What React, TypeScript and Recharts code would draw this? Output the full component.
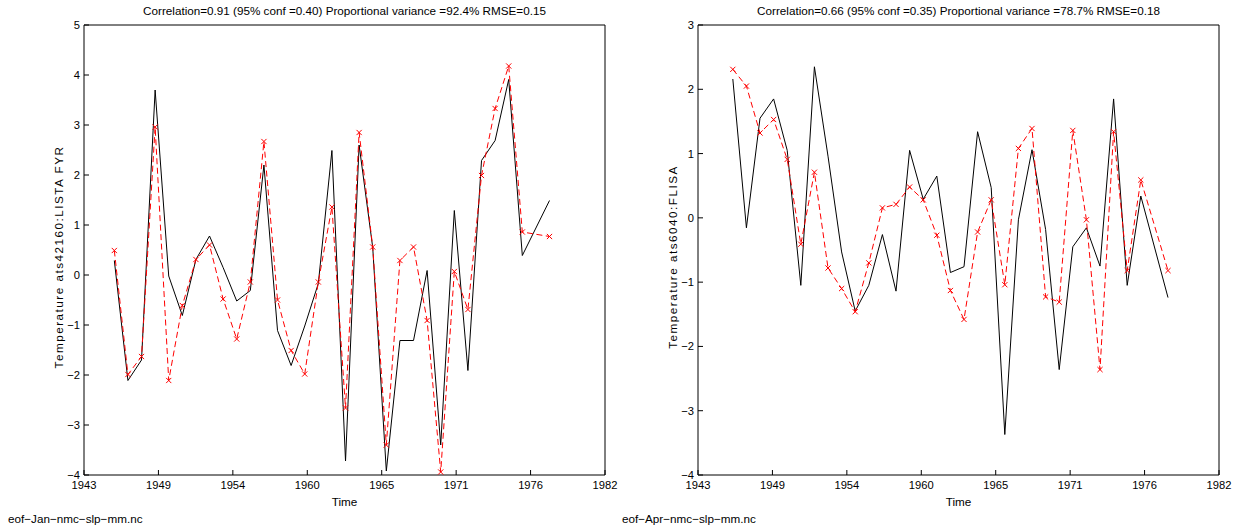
import React from 'react';
import { LineChart, Line, XAxis, YAxis } from 'recharts';

// ---- data ----
const years = [
  1946, 1947, 1948, 1949, 1950, 1951, 1952, 1953, 1954, 1955, 1956,
  1957, 1958, 1959, 1960, 1961, 1962, 1963, 1964, 1965, 1966, 1967,
  1968, 1969, 1970, 1971, 1972, 1973, 1974, 1975, 1976, 1978,
];

const janObserved = [
  0.29, -2.11, -1.7, 3.7, -0.02, -0.81, 0.31, 0.78, 0.15, -0.52, -0.31,
  2.2, -1.11, -1.81, -1.02, -0.17, 2.49, -3.72, 2.6, 0.55, -3.92, -1.31,
  -1.31, 0.09, -3.4, 1.29, -1.91, 2.29, 2.69, 3.91, 0.39, 1.49,
];
const janModel = [
  0.49, -1.99, -1.63, 2.96, -2.11, -0.61, 0.31, 0.6, -0.48, -1.28, -0.14,
  2.67, -0.5, -1.51, -1.98, -0.14, 1.36, -2.66, 2.85, 0.56, -3.4, 0.29,
  0.56, -0.91, -3.94, 0.07, -0.69, 1.99, 3.33, 4.18, 0.86, 0.77,
];

const aprObserved = [
  2.16, -0.155, 1.55, 1.85, 1.05, -1.05, 2.35, 0.96, -0.53, -1.45, -1.05,
  -0.26, -1.14, 1.05, 0.29, 0.65, -0.85, -0.76, 1.34, 0.47, -3.37, -0.03,
  1.06, -0.18, -2.36, -0.45, -0.155, -0.75, 1.85, -1.05, 0.34, -1.24,
];
const aprModel = [
  2.31, 2.05, 1.32, 1.53, 0.91, -0.41, 0.71, -0.78, -1.1, -1.46, -0.7,
  0.155, 0.21, 0.48, 0.28, -0.27, -1.13, -1.58, -0.22, 0.28, -1.04, 1.08,
  1.39, -1.23, -1.31, 1.36, -0.03, -2.36, 1.34, -0.82, 0.59, -0.82,
];

const janTimeOffset = 0;
const aprTimeOffset = 0.33;

const timeDomain: [number, number] = [1943.77, 1982.08];
const timeTickLabels = ['1943', '1949', '1954', '1960', '1965', '1971', '1976', '1982'];
const janYTicks = [-4, -3, -2, -1, 0, 1, 2, 3, 4, 5];
const aprYTicks = [-4, -3, -2, -1, 0, 1, 2, 3];

const janTitle = 'Correlation=0.91 (95% conf =0.40) Proportional variance =92.4% RMSE=0.15';
const aprTitle = 'Correlation=0.66 (95% conf =0.35) Proportional variance =78.7% RMSE=0.18';
const janYLabel = 'Temperature ats42160:LISTA FYR';
const aprYLabel = 'Temperature ats6040:FLISA';
const janFile = 'eof\u2212Jan\u2212nmc\u2212slp\u2212mm.nc';
const aprFile = 'eof\u2212Apr\u2212nmc\u2212slp\u2212mm.nc';
const xLabel = 'Time';

// ---- layout ----
const FONT = '"Liberation Sans", Arial, Helvetica, sans-serif';
const PW = 620;
const PH = 532;
const PLOT_L = 84;
const PLOT_R = 605;
const PLOT_T = 25;
const PLOT_B = 475;
const MARGIN = { top: PLOT_T - 1, right: PW - PLOT_R - 1, bottom: 17, left: 0 };

const timeTicks = timeTickLabels.map(
  (_, i) => timeDomain[0] + (i * (timeDomain[1] - timeDomain[0])) / (timeTickLabels.length - 1)
);

const fmtTime = (v: number) => {
  const i = timeTicks.findIndex((t) => Math.abs(t - v) < 1e-6);
  return i >= 0 ? timeTickLabels[i] : '';
};
const fmtY = (v: number) => String(v).replace('-', '\u2212');

const Cross = (props: any) => {
  const { cx, cy } = props;
  if (cx == null || cy == null || isNaN(cx) || isNaN(cy)) return null;
  const s = 2.6;
  return (
    <g>
      <line x1={cx - s} y1={cy - s} x2={cx + s} y2={cy + s} stroke="#ff0000" strokeWidth={1} />
      <line x1={cx - s} y1={cy + s} x2={cx + s} y2={cy - s} stroke="#ff0000" strokeWidth={1} />
    </g>
  );
};

type PanelProps = {
  left: number;
  observed: number[];
  model: number[];
  offset: number;
  yTicks: number[];
  title: string;
  yLabel: string;
  file: string;
};

const textBase: React.CSSProperties = {
  position: 'absolute',
  fontFamily: FONT,
  color: '#000',
  whiteSpace: 'nowrap',
  lineHeight: 1,
};

function Panel({ left, observed, model, offset, yTicks, title, yLabel, file }: PanelProps) {
  const rows = years.map((y, i) => ({ t: y + offset, obs: observed[i], model: model[i] }));
  const yDomain: [number, number] = [yTicks[0], yTicks[yTicks.length - 1]];
  const cx = (PLOT_L + PLOT_R) / 2;
  const tickStyle = { fill: '#000', fontSize: 11.2, fontFamily: FONT };
  return (
    <div style={{ position: 'absolute', left, top: 0, width: PW, height: PH }}>
      <LineChart width={PW} height={PH} data={rows} margin={MARGIN}>
        <XAxis
          xAxisId="b"
          dataKey="t"
          type="number"
          orientation="bottom"
          domain={timeDomain}
          ticks={timeTicks}
          interval={0}
          allowDataOverflow
          tickFormatter={fmtTime}
          height={40}
          tickSize={-5}
          tickMargin={11}
          stroke="#000"
          tick={tickStyle}
        />
        <XAxis
          xAxisId="t"
          dataKey="t"
          type="number"
          orientation="top"
          domain={timeDomain}
          ticks={timeTicks}
          interval={0}
          allowDataOverflow
          height={1}
          tickSize={-5}
          stroke="#000"
          tick={false}
        />
        <YAxis
          yAxisId="l"
          type="number"
          domain={yDomain}
          ticks={yTicks}
          interval={0}
          allowDataOverflow
          width={PLOT_L}
          tickSize={-5}
          tickMargin={9}
          tickFormatter={fmtY}
          stroke="#000"
          tick={tickStyle}
        />
        <YAxis
          yAxisId="r"
          type="number"
          orientation="right"
          domain={yDomain}
          ticks={yTicks}
          interval={0}
          allowDataOverflow
          width={1}
          tickSize={-5}
          stroke="#000"
          tick={false}
        />
        <Line
          xAxisId="t"
          yAxisId="r"
          dataKey="obs"
          stroke="none"
          dot={false}
          activeDot={false}
          isAnimationActive={false}
        />
        <Line
          xAxisId="b"
          yAxisId="l"
          type="linear"
          dataKey="obs"
          stroke="#000"
          strokeWidth={1}
          dot={false}
          activeDot={false}
          isAnimationActive={false}
        />
        <Line
          xAxisId="b"
          yAxisId="l"
          type="linear"
          dataKey="model"
          stroke="#ff0000"
          strokeWidth={1}
          strokeDasharray="6 3.5"
          dot={<Cross />}
          activeDot={false}
          isAnimationActive={false}
        />
      </LineChart>
      <div style={{ ...textBase, left: cx, top: 10.7, fontSize: 11.7, transform: 'translate(-50%,-50%)' }}>
        {title}
      </div>
      <div style={{ ...textBase, left: cx, top: 501.5, fontSize: 11.7, transform: 'translate(-50%,-50%)' }}>
        {xLabel}
      </div>
      <div
        style={{
          ...textBase,
          left: 58.5,
          top: (PLOT_T + PLOT_B) / 2 + 7,
          fontSize: 11.7,
          letterSpacing: 1.5,
          transform: 'translate(-50%,-50%) rotate(-90deg)',
        }}
      >
        {yLabel}
      </div>
      <div style={{ ...textBase, left: 8, top: 519.3, fontSize: 11.7, transform: 'translate(0,-50%)' }}>
        {file}
      </div>
    </div>
  );
}

export default function App() {
  return (
    <div style={{ position: 'absolute', left: 0, top: 0, width: 1240, height: 532, background: '#fff' }}>
      <Panel
        left={0}
        observed={janObserved}
        model={janModel}
        offset={janTimeOffset}
        yTicks={janYTicks}
        title={janTitle}
        yLabel={janYLabel}
        file={janFile}
      />
      <Panel
        left={614}
        observed={aprObserved}
        model={aprModel}
        offset={aprTimeOffset}
        yTicks={aprYTicks}
        title={aprTitle}
        yLabel={aprYLabel}
        file={aprFile}
      />
    </div>
  );
}
